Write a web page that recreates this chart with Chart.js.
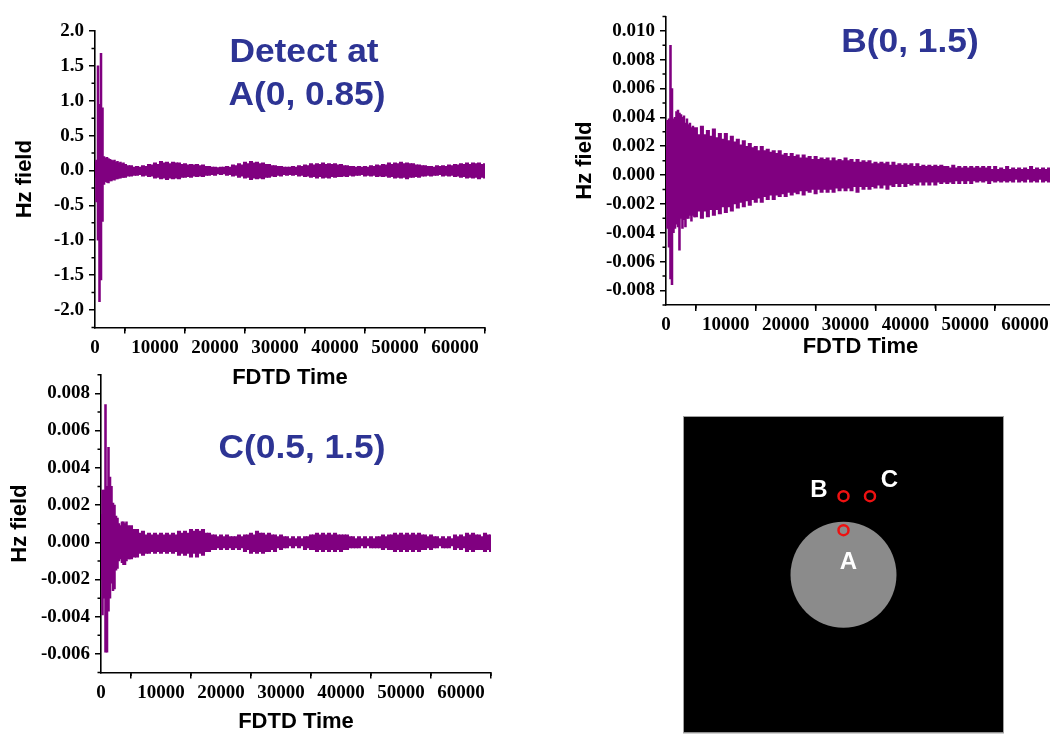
<!DOCTYPE html>
<html>
<head>
<meta charset="utf-8">
<title>Hz field at probe points</title>
<script src="https://cdn.jsdelivr.net/npm/chart.js@4.4.1/dist/chart.umd.min.js"></script>
<style>
  html, body { margin: 0; padding: 0; background: #fff; }
  #stage { position: relative; width: 1050px; height: 735px; overflow: hidden; background: #fff; }
  #stage canvas { position: absolute; left: 0; top: 0; }
</style>
</head>
<body>
<div id="stage">
  <canvas id="chartA" width="1100" height="740"></canvas>
  <canvas id="chartB" width="1100" height="740"></canvas>
  <canvas id="chartC" width="1100" height="740"></canvas>
  <canvas id="chartGeom" width="1100" height="740"></canvas>
</div>
<script>
// ---- recorded signals, stored as min / max envelope per time bin ----
const EARLY_STEP = 250;     // fine bins over the first 5000 steps
const LATE_START = 5000;
const LATE_STEP = 500;      // bins from 5000 to 65000

const X_TICKS = [0, 10000, 20000, 30000, 40000, 50000, 60000];
const X_MINOR = [5000, 15000, 25000, 35000, 45000, 55000, 65000];

// Probe A (0, 0.85)
const A_EARLY_HI = [0.12, 0.15, 1.50, 0.95, 1.68, 0.90, 0.20, 0.18, 0.19, 0.17, 0.16, 0.15, 0.14, 0.15, 0.12, 0.13, 0.11, 0.12, 0.10, 0.11];
const A_EARLY_LO = [-0.10, -0.45, -1.00, -1.88, -1.57, -0.73, -0.20, -0.16, -0.17, -0.18, -0.15, -0.15, -0.13, -0.14, -0.12, -0.12, -0.11, -0.11, -0.10, -0.10];
const A_LATE_HI = [
  0.09, 0.07, 0.07, 0.05, 0.06, 0.05, 0.07, 0.06, 0.09, 0.08, 0.11, 0.09, 0.13, 0.11, 0.12, 0.10, 0.12, 0.11, 0.11, 0.09,
  0.10, 0.08, 0.09, 0.08, 0.09, 0.07, 0.08, 0.06, 0.06, 0.05, 0.05, 0.04, 0.05, 0.05, 0.06, 0.05, 0.08, 0.07, 0.10, 0.08,
  0.12, 0.10, 0.13, 0.11, 0.12, 0.10, 0.11, 0.09, 0.09, 0.07, 0.07, 0.06, 0.06, 0.05, 0.05, 0.05, 0.06, 0.05, 0.07, 0.06,
  0.08, 0.07, 0.10, 0.08, 0.10, 0.09, 0.11, 0.09, 0.10, 0.09, 0.10, 0.08, 0.09, 0.07, 0.07, 0.06, 0.06, 0.05, 0.06, 0.05,
  0.06, 0.05, 0.07, 0.06, 0.08, 0.07, 0.09, 0.08, 0.11, 0.09, 0.11, 0.10, 0.12, 0.10, 0.11, 0.10, 0.10, 0.08, 0.08, 0.07,
  0.07, 0.06, 0.06, 0.05, 0.07, 0.06, 0.07, 0.06, 0.08, 0.07, 0.09, 0.08, 0.10, 0.09, 0.11, 0.09, 0.11, 0.10, 0.11, 0.09,
  0.10];
const A_LATE_LO = [
  -0.10, -0.08, -0.08, -0.07, -0.07, -0.06, -0.08, -0.07, -0.09, -0.08, -0.11, -0.10, -0.12, -0.11, -0.13, -0.11, -0.12, -0.11, -0.12, -0.10,
  -0.10, -0.09, -0.10, -0.08, -0.09, -0.08, -0.09, -0.07, -0.07, -0.06, -0.07, -0.05, -0.06, -0.05, -0.07, -0.06, -0.08, -0.07, -0.10, -0.08,
  -0.11, -0.10, -0.13, -0.11, -0.12, -0.11, -0.12, -0.10, -0.10, -0.08, -0.09, -0.07, -0.08, -0.06, -0.07, -0.06, -0.07, -0.06, -0.08, -0.07,
  -0.09, -0.08, -0.10, -0.09, -0.11, -0.09, -0.11, -0.10, -0.11, -0.09, -0.10, -0.09, -0.09, -0.08, -0.09, -0.07, -0.08, -0.07, -0.07, -0.06,
  -0.08, -0.07, -0.08, -0.07, -0.09, -0.08, -0.09, -0.08, -0.10, -0.09, -0.11, -0.10, -0.11, -0.10, -0.12, -0.10, -0.10, -0.09, -0.10, -0.08,
  -0.08, -0.07, -0.08, -0.07, -0.07, -0.06, -0.08, -0.07, -0.08, -0.07, -0.09, -0.08, -0.10, -0.09, -0.11, -0.10, -0.11, -0.10, -0.12, -0.10,
  -0.11];
const A_Y_TICKS = [-2.0, -1.5, -1.0, -0.5, 0.0, 0.5, 1.0, 1.5, 2.0];
const A_Y_MINOR = [-2.25, -1.75, -1.25, -0.75, -0.25, 0.25, 0.75, 1.25, 1.75];

// Probe B (0, 1.5)
const B_EARLY_HI = [0.0020, 0.0038, 0.0039, 0.0090, 0.0060, 0.0039, 0.0040, 0.0044, 0.0045, 0.0043, 0.0042, 0.0040, 0.0041, 0.0036, 0.0039, 0.0035, 0.0036, 0.0033, 0.0034, 0.0031];
const B_EARLY_LO = [-0.0020, -0.0037, -0.0050, -0.0072, -0.0076, -0.0040, -0.0037, -0.0034, -0.0036, -0.0052, -0.0030, -0.0037, -0.0031, -0.0036, -0.0030, -0.0030, -0.0028, -0.0032, -0.0028, -0.0029];
const B_LATE_HI = [
  0.0033, 0.0028, 0.0034, 0.0028, 0.0031, 0.0027, 0.0032, 0.0026, 0.0029, 0.0025, 0.0029, 0.0024, 0.0027, 0.0023, 0.0025, 0.0021, 0.0024, 0.0020, 0.0022, 0.0019,
  0.0020, 0.0017, 0.0020, 0.0017, 0.0018, 0.0016, 0.0017, 0.0015, 0.0017, 0.0014, 0.0015, 0.0013, 0.0015, 0.0013, 0.0014, 0.0012, 0.0014, 0.0012, 0.0013, 0.0011,
  0.0013, 0.0011, 0.0012, 0.0011, 0.0012, 0.0010, 0.0012, 0.0010, 0.0011, 0.0010, 0.0012, 0.0010, 0.0011, 0.0009, 0.0011, 0.0009, 0.0010, 0.0009, 0.0010, 0.0008,
  0.0009, 0.0008, 0.0009, 0.0008, 0.0009, 0.0007, 0.0009, 0.0007, 0.0008, 0.0007, 0.0008, 0.0007, 0.0008, 0.0006, 0.0008, 0.0006, 0.0007, 0.0006, 0.0007, 0.0006,
  0.0007, 0.0006, 0.0007, 0.0006, 0.0006, 0.0005, 0.0007, 0.0005, 0.0006, 0.0005, 0.0006, 0.0005, 0.0006, 0.0005, 0.0006, 0.0005, 0.0006, 0.0005, 0.0006, 0.0004,
  0.0006, 0.0004, 0.0005, 0.0004, 0.0006, 0.0004, 0.0005, 0.0004, 0.0005, 0.0004, 0.0005, 0.0004, 0.0006, 0.0004, 0.0005, 0.0004, 0.0005, 0.0004, 0.0005, 0.0004,
  0.0005];
const B_LATE_LO = [
  -0.0029, -0.0025, -0.0030, -0.0025, -0.0029, -0.0024, -0.0028, -0.0024, -0.0027, -0.0022, -0.0026, -0.0022, -0.0025, -0.0020, -0.0023, -0.0019, -0.0022, -0.0018, -0.0021, -0.0017,
  -0.0019, -0.0016, -0.0019, -0.0015, -0.0017, -0.0014, -0.0017, -0.0014, -0.0015, -0.0013, -0.0015, -0.0012, -0.0014, -0.0012, -0.0013, -0.0011, -0.0014, -0.0011, -0.0012, -0.0010,
  -0.0013, -0.0010, -0.0012, -0.0010, -0.0012, -0.0010, -0.0012, -0.0009, -0.0011, -0.0009, -0.0011, -0.0009, -0.0011, -0.0008, -0.0012, -0.0008, -0.0010, -0.0008, -0.0010, -0.0008,
  -0.0009, -0.0007, -0.0009, -0.0007, -0.0010, -0.0007, -0.0008, -0.0006, -0.0008, -0.0006, -0.0008, -0.0006, -0.0007, -0.0006, -0.0007, -0.0005, -0.0007, -0.0005, -0.0007, -0.0005,
  -0.0007, -0.0005, -0.0006, -0.0005, -0.0006, -0.0005, -0.0006, -0.0004, -0.0006, -0.0004, -0.0006, -0.0004, -0.0006, -0.0004, -0.0005, -0.0004, -0.0005, -0.0004, -0.0006, -0.0004,
  -0.0005, -0.0004, -0.0005, -0.0004, -0.0005, -0.0004, -0.0005, -0.0003, -0.0005, -0.0004, -0.0005, -0.0003, -0.0005, -0.0004, -0.0005, -0.0003, -0.0005, -0.0004, -0.0005, -0.0003,
  -0.0005];
const B_Y_TICKS = [-0.008, -0.006, -0.004, -0.002, 0.000, 0.002, 0.004, 0.006, 0.008, 0.010];
const B_Y_MINOR = [-0.009, -0.007, -0.005, -0.003, -0.001, 0.001, 0.003, 0.005, 0.007, 0.009, 0.011];

// Probe C (0.5, 1.5)
const C_EARLY_HI = [0.0015, 0.0028, 0.0028, 0.0074, 0.0030, 0.0051, 0.0035, 0.0030, 0.0021, 0.0020, 0.0014, 0.0013, 0.0010, 0.0009, 0.0011, 0.0011, 0.0010, 0.0011, 0.0009, 0.0008];
const C_EARLY_LO = [-0.0020, -0.0039, -0.0030, -0.0059, -0.0059, -0.0037, -0.0030, -0.0022, -0.0026, -0.0025, -0.0015, -0.0014, -0.0010, -0.0009, -0.0011, -0.0012, -0.0012, -0.0010, -0.0009, -0.0009];
const C_LATE_HI = [
  0.0009, 0.0007, 0.0007, 0.0005, 0.0006, 0.0004, 0.0005, 0.0004, 0.0005, 0.0004, 0.0005, 0.0004, 0.0005, 0.0004, 0.0005, 0.0004, 0.0006, 0.0005, 0.0006, 0.0005,
  0.0007, 0.0006, 0.0007, 0.0006, 0.0007, 0.0005, 0.0005, 0.0004, 0.0004, 0.0003, 0.0004, 0.0003, 0.0004, 0.0003, 0.0003, 0.0003, 0.0004, 0.0003, 0.0004, 0.0004,
  0.0005, 0.0004, 0.0006, 0.0005, 0.0005, 0.0004, 0.0005, 0.0004, 0.0004, 0.0003, 0.0004, 0.0003, 0.0003, 0.0002, 0.0003, 0.0002, 0.0003, 0.0002, 0.0003, 0.0003,
  0.0004, 0.0004, 0.0005, 0.0004, 0.0005, 0.0004, 0.0005, 0.0004, 0.0005, 0.0004, 0.0004, 0.0004, 0.0004, 0.0003, 0.0003, 0.0002, 0.0003, 0.0002, 0.0003, 0.0002,
  0.0003, 0.0002, 0.0003, 0.0003, 0.0004, 0.0003, 0.0004, 0.0004, 0.0005, 0.0004, 0.0005, 0.0004, 0.0005, 0.0004, 0.0005, 0.0004, 0.0005, 0.0004, 0.0004, 0.0003,
  0.0004, 0.0003, 0.0003, 0.0002, 0.0003, 0.0002, 0.0003, 0.0002, 0.0004, 0.0003, 0.0004, 0.0003, 0.0005, 0.0004, 0.0005, 0.0004, 0.0004, 0.0003, 0.0005, 0.0004,
  0.0004];
const C_LATE_LO = [
  -0.0009, -0.0008, -0.0008, -0.0006, -0.0007, -0.0006, -0.0006, -0.0005, -0.0006, -0.0005, -0.0006, -0.0005, -0.0006, -0.0005, -0.0006, -0.0005, -0.0007, -0.0006, -0.0007, -0.0006,
  -0.0008, -0.0006, -0.0008, -0.0006, -0.0007, -0.0005, -0.0005, -0.0004, -0.0004, -0.0003, -0.0004, -0.0003, -0.0004, -0.0003, -0.0004, -0.0003, -0.0004, -0.0003, -0.0005, -0.0004,
  -0.0006, -0.0005, -0.0006, -0.0005, -0.0006, -0.0005, -0.0005, -0.0004, -0.0005, -0.0003, -0.0004, -0.0003, -0.0003, -0.0002, -0.0003, -0.0002, -0.0003, -0.0002, -0.0004, -0.0003,
  -0.0004, -0.0004, -0.0005, -0.0004, -0.0005, -0.0004, -0.0005, -0.0004, -0.0005, -0.0004, -0.0005, -0.0004, -0.0004, -0.0003, -0.0003, -0.0003, -0.0003, -0.0002, -0.0003, -0.0002,
  -0.0003, -0.0003, -0.0003, -0.0003, -0.0004, -0.0003, -0.0004, -0.0004, -0.0005, -0.0004, -0.0005, -0.0004, -0.0005, -0.0004, -0.0005, -0.0004, -0.0005, -0.0004, -0.0004, -0.0003,
  -0.0004, -0.0003, -0.0003, -0.0002, -0.0003, -0.0003, -0.0003, -0.0002, -0.0004, -0.0003, -0.0004, -0.0003, -0.0005, -0.0004, -0.0005, -0.0004, -0.0004, -0.0004, -0.0005, -0.0004,
  -0.0005];
const C_Y_TICKS = [-0.006, -0.004, -0.002, 0.000, 0.002, 0.004, 0.006, 0.008];
const C_Y_MINOR = [-0.007, -0.005, -0.003, -0.001, 0.001, 0.003, 0.005, 0.007, 0.009];

// Geometry: dielectric cylinder and the three probe points
const CYL_CENTER = [0, 0];
const CYL_RADIUS = 1.0;
const PROBE_NAMES = ['A', 'B', 'C'];
const PROBE_X = [0, 0, 0.5];
const PROBE_Y = [0.85, 1.5, 1.5];

// ---- styles ----
const SIGNAL_COLOR = '#800080';
const LABEL_COLOR = '#2D3494';
const TICK_FONT = { family: '"Liberation Serif", "Times New Roman", serif', weight: 'bold', size: 19 };
const AXIS_FONT = { family: '"Liberation Sans", Arial, sans-serif', weight: 'bold', size: 22 };

// short minor tick marks on both axes
const minorTicks = {
  id: 'minorTicks',
  afterDraw(chart, args, opts) {
    const { ctx, chartArea: a, scales } = chart;
    const len = opts.length || 3.5;
    ctx.save();
    ctx.strokeStyle = '#000';
    ctx.lineWidth = 1.5;
    ctx.beginPath();
    (opts.x || []).forEach(v => {
      const px = scales.x.getPixelForValue(v);
      ctx.moveTo(px, a.bottom);
      ctx.lineTo(px, a.bottom + len);
    });
    (opts.y || []).forEach(v => {
      const py = scales.y.getPixelForValue(v);
      ctx.moveTo(a.left - len, py);
      ctx.lineTo(a.left, py);
    });
    ctx.stroke();
    ctx.restore();
  }
};

// large caption naming the probe position
const panelLabel = {
  id: 'panelLabel',
  afterDraw(chart, args, opts) {
    if (!opts.lines) return;
    const { ctx } = chart;
    ctx.save();
    ctx.font = opts.font;
    ctx.fillStyle = opts.color;
    ctx.textAlign = 'center';
    ctx.textBaseline = 'alphabetic';
    opts.lines.forEach(ln => {
      ctx.save();
      ctx.translate(ln.x, ln.y);
      ctx.scale(opts.stretch || 1, 1);
      ctx.fillText(ln.text, 0, 0);
      ctx.restore();
    });
    ctx.restore();
  }
};

function binned(start, step, lo, hi) {
  return lo.map((v, i) => ({ x: start + i * step, y: [v, hi[i]] }));
}

function axisCommon() {
  return {
    grid: { drawOnChartArea: false, drawTicks: true, tickLength: 6, color: '#000', lineWidth: 1.5 },
    border: { display: true, color: '#000', width: 1.6 }
  };
}

function signalChart(id, c) {
  return new Chart(document.getElementById(id), {
    type: 'bar',
    data: {
      datasets: [
        { data: binned(0, EARLY_STEP, c.earlyLo, c.earlyHi), backgroundColor: SIGNAL_COLOR,
          borderWidth: 0, barThickness: 1.9, grouped: false },
        { data: binned(LATE_START, LATE_STEP, c.lateLo, c.lateHi), backgroundColor: SIGNAL_COLOR,
          borderWidth: 0, barThickness: 3.4, grouped: false }
      ]
    },
    options: {
      responsive: false,
      animation: false,
      events: [],
      layout: { padding: c.padding },
      plugins: {
        legend: { display: false },
        tooltip: { enabled: false },
        minorTicks: { x: X_MINOR, y: c.yMinor, length: 3.5 },
        panelLabel: { lines: c.caption, font: 'bold 33px "Liberation Sans", Arial, sans-serif', color: LABEL_COLOR, stretch: 1.07 }
      },
      scales: {
        x: Object.assign(axisCommon(), {
          type: 'linear', min: 0, max: 65000, offset: false,
          afterBuildTicks: s => { s.ticks = X_TICKS.map(v => ({ value: v })); },
          afterFit: s => { s.height = c.xHeight; },
          ticks: { autoSkip: false, maxRotation: 0, padding: 3, color: '#000', font: TICK_FONT,
                   callback: v => String(v) },
          title: { display: true, text: 'FDTD Time', color: '#000', font: AXIS_FONT, padding: { top: 0, bottom: 0 } }
        }),
        y: Object.assign(axisCommon(), {
          type: 'linear', min: c.yMin, max: c.yMax,
          afterBuildTicks: s => { s.ticks = c.yTicks.map(v => ({ value: v })); },
          afterFit: s => { s.width = c.yWidth; },
          ticks: { padding: 5, color: '#000', font: TICK_FONT, callback: v => Number(v).toFixed(c.decimals) },
          title: { display: true, text: 'Hz field', color: '#000', font: AXIS_FONT, padding: { top: c.yTitlePad, bottom: 0 } }
        })
      }
    },
    plugins: [minorTicks, panelLabel]
  });
}

signalChart('chartA', {
  earlyHi: A_EARLY_HI, earlyLo: A_EARLY_LO, lateHi: A_LATE_HI, lateLo: A_LATE_LO,
  yMin: -2.25, yMax: 2.0, yTicks: A_Y_TICKS, yMinor: A_Y_MINOR, decimals: 1,
  padding: { left: 0, top: 31, right: 615, bottom: 349 }, yWidth: 95, xHeight: 63.6, yTitlePad: 12,
  caption: [{ text: 'Detect at', x: 304, y: 62 }, { text: 'A(0, 0.85)', x: 307, y: 105 }]
});

signalChart('chartB', {
  earlyHi: B_EARLY_HI, earlyLo: B_EARLY_LO, lateHi: B_LATE_HI, lateLo: B_LATE_LO,
  yMin: -0.009, yMax: 0.011, yTicks: B_Y_TICKS, yMinor: B_Y_MINOR, decimals: 3,
  padding: { left: 560, top: 7.4, right: 45, bottom: 379.8 }, yWidth: 106, xHeight: 55.3, yTitlePad: 12,
  caption: [{ text: 'B(0, 1.5)', x: 910, y: 52 }]
});

signalChart('chartC', {
  earlyHi: C_EARLY_HI, earlyLo: C_EARLY_LO, lateHi: C_LATE_HI, lateLo: C_LATE_LO,
  yMin: -0.007, yMax: 0.009, yTicks: C_Y_TICKS, yMinor: C_Y_MINOR, decimals: 3,
  padding: { left: 0, top: 374.7, right: 609, bottom: 4.8 }, yWidth: 101, xHeight: 62.6, yTitlePad: 7,
  caption: [{ text: 'C(0.5, 1.5)', x: 302, y: 458 }]
});

// ---- geometry sketch: black domain, grey cylinder, red probe rings ----
const domainBackground = {
  id: 'domainBackground',
  beforeDatasetsDraw(chart) {
    const { ctx, chartArea: a } = chart;
    ctx.save();
    ctx.fillStyle = '#000';
    ctx.fillRect(a.left, a.top, a.right - a.left, a.bottom - a.top);
    ctx.strokeStyle = '#a0a0a0';
    ctx.lineWidth = 1;
    ctx.strokeRect(a.left - 0.5, a.top - 0.5, a.right - a.left + 1, a.bottom - a.top + 1);
    ctx.restore();
  }
};

const LABEL_OFFSETS = { A: [5, 38.5], B: [-24.5, 1], C: [19.5, -9] };
const probeLabels = {
  id: 'probeLabels',
  afterDatasetsDraw(chart) {
    const { ctx, scales } = chart;
    ctx.save();
    ctx.font = 'bold 24px "Liberation Sans", Arial, sans-serif';
    ctx.fillStyle = '#fff';
    ctx.textAlign = 'center';
    ctx.textBaseline = 'alphabetic';
    PROBE_NAMES.forEach((name, i) => {
      const px = scales.x.getPixelForValue(PROBE_X[i]);
      const py = scales.y.getPixelForValue(PROBE_Y[i]);
      const off = LABEL_OFFSETS[name];
      ctx.fillText(name, px + off[0], py + off[1]);
    });
    ctx.restore();
  }
};

new Chart(document.getElementById('chartGeom'), {
  type: 'scatter',
  data: {
    datasets: [
      {
        order: 2,
        data: [{ x: CYL_CENTER[0], y: CYL_CENTER[1] }],
        pointRadius: ctx => {
          const s = ctx.chart.scales.x;
          return Math.abs(s.getPixelForValue(CYL_RADIUS) - s.getPixelForValue(0));
        },
        pointBackgroundColor: '#8b8b8b',
        pointBorderWidth: 0
      },
      {
        order: 1,
        data: PROBE_X.map((x, i) => ({ x, y: PROBE_Y[i] })),
        pointRadius: 5,
        pointBorderWidth: 2.5,
        pointBorderColor: '#ee1111',
        pointBackgroundColor: 'rgba(0,0,0,0)'
      }
    ]
  },
  options: {
    responsive: false,
    animation: false,
    events: [],
    layout: { padding: { left: 684, right: 97, top: 417, bottom: 4 } },
    scales: {
      x: { display: false, min: -3.01, max: 3.01 },
      y: { display: false, min: -3.01, max: 3.01 }
    },
    plugins: { legend: { display: false }, tooltip: { enabled: false } }
  },
  plugins: [domainBackground, probeLabels]
});
</script>
</body>
</html>
